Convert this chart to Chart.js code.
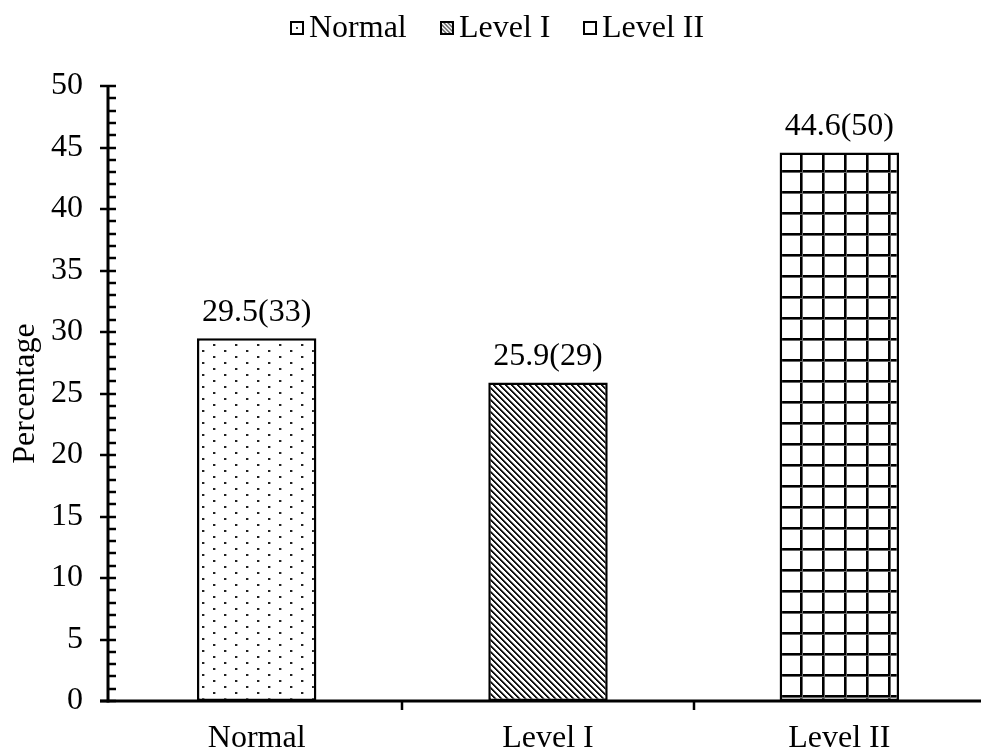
<!DOCTYPE html>
<html><head><meta charset="utf-8">
<script src="https://cdn.jsdelivr.net/npm/chart.js@4/dist/chart.umd.min.js"></script>
<style>html,body{margin:0;padding:0;background:#fff;}#wrap{width:981px;height:751px;}</style>
</head><body><div id="wrap"><canvas id="c" width="981" height="751"></canvas></div>
<script>
const categories = ['Normal', 'Level I', 'Level II'];
const percentages = [29.5, 25.9, 44.6];
const counts = [33, 29, 50];
const yMin = 0, yMax = 50, yMajorStep = 5, yMinorStep = 1;
const yTitle = 'Percentage';
const FONT = '"Liberation Serif", "Times New Roman", serif';
const FS = 32;

const canvas = document.getElementById('c');
const ctx = canvas.getContext('2d');

function makePattern(w, h, draw, ox, oy) {
  const c = document.createElement('canvas');
  c.width = w; c.height = h;
  const g = c.getContext('2d');
  g.fillStyle = '#fff'; g.fillRect(0, 0, w, h);
  draw(g, w, h);
  const p = ctx.createPattern(c, 'repeat');
  if (ox || oy) p.setTransform(new DOMMatrix().translate(ox || 0, oy || 0));
  return p;
}
const dotPattern = makePattern(22, 12, g => {
  g.fillStyle = '#222';
  g.fillRect(0, 0, 2, 2);
  g.fillRect(11, 6, 2, 2);
  g.fillStyle = '#aaa';
  g.fillRect(2, 0, 1, 2); g.fillRect(13, 6, 1, 2);
}, 4, 2);
const stripePattern = makePattern(6, 6, (g, w, h) => {
  for (let x = 0; x < w; x++) for (let y = 0; y < h; y++) {
    const d = ((x - y) % 6 + 6) % 6;
    if (d < 2) { g.fillStyle = '#111'; g.fillRect(x, y, 1, 1); }
    else if (d === 2) { g.fillStyle = '#888'; g.fillRect(x, y, 1, 1); }
  }
});
const gridPattern = makePattern(22, 21, g => {
  g.fillStyle = '#000';
  g.fillRect(0, 0, 22, 2); g.fillRect(0, 0, 2, 21);
  g.fillStyle = '#666';
  g.fillRect(0, 2, 22, 1); g.fillRect(2, 0, 1, 21);
}, 8, 2);

const fills = [dotPattern, stripePattern, gridPattern];
const swatches = ['dots', 'stripes', 'plain'];

const datasets = categories.map((cat, i) => ({
  label: cat,
  data: categories.map((_, j) => (j === i ? percentages[i] : null)),
  backgroundColor: fills[i],
  borderColor: '#000',
  borderWidth: 2.5,
  borderSkipped: false,
  grouped: false,
  barPercentage: 0.41,
  categoryPercentage: 1,
  swatch: swatches[i]
}));

const axesPlugin = {
  id: 'axesPlugin',
  afterLayout(chart) {
    const xS = chart.scales.x, ca = chart.chartArea;
    xS.left = ca.left + 3;
    xS.right = ca.right + 4;
    xS.width = xS.right - xS.left;
    xS.configure();
  },
  afterDraw(chart) {
    const c = chart.ctx, ca = chart.chartArea;
    const yS = chart.scales.y, xS = chart.scales.x;
    const ax = ca.left;
    const y0 = yS.getPixelForValue(yMin), yTop = yS.getPixelForValue(yMax);
    c.save();
    c.strokeStyle = '#000';
    c.lineCap = 'butt';
    c.lineWidth = 2.5;
    for (let v = yMin; v <= yMax + 1e-9; v += yMinorStep) {
      const y = Math.round(yS.getPixelForValue(v));
      c.beginPath();
      if (Math.abs(v % yMajorStep) < 1e-9) { c.moveTo(ax - 8, y); c.lineTo(ax + 8, y); }
      else { c.moveTo(ax, y); c.lineTo(ax + 8, y); }
      c.stroke();
    }
    c.lineWidth = 3;
    c.beginPath(); c.moveTo(ax, yTop - 1); c.lineTo(ax, y0 + 1.5); c.stroke();
    c.beginPath(); c.moveTo(ax - 8, y0); c.lineTo(ca.right, y0); c.stroke();
    c.lineWidth = 2.5;
    for (let i = 1; i < categories.length; i++) {
      const x = Math.round((xS.getPixelForValue(i - 1) + xS.getPixelForValue(i)) / 2);
      c.beginPath(); c.moveTo(x, y0); c.lineTo(x, y0 + 9); c.stroke();
    }
    c.fillStyle = '#000';
    c.font = FS + 'px ' + FONT;
    c.textAlign = 'center';
    c.textBaseline = 'middle';
    chart.data.datasets.forEach((ds, di) => {
      const meta = chart.getDatasetMeta(di);
      meta.data.forEach((el, i) => {
        if (ds.data[i] == null) return;
        const txt = percentages[i].toFixed(1) + '(' + counts[i] + ')';
        c.fillText(txt, el.x, el.y - 26);
      });
    });
    // legend
    const box = 14, gapText = 5, gapItem = 33;
    const items = chart.data.datasets.map(ds => ({ text: ds.label, sw: ds.swatch, w: c.measureText(ds.label).width }));
    const total = items.reduce((s, it) => s + box + gapText + it.w, 0) + gapItem * (items.length - 1);
    let x = 497 - total / 2;
    const ly = 28;
    c.textAlign = 'left';
    items.forEach(it => {
      const bx = Math.round(x), by = Math.round(ly - box / 2);
      c.fillStyle = '#fff'; c.fillRect(bx, by, box, box);
      if (it.sw === 'dots') {
        c.fillStyle = '#333'; c.fillRect(bx + box / 2 - 1, by + box / 2 - 1, 2, 2);
      } else if (it.sw === 'stripes') {
        c.save();
        c.beginPath(); c.rect(bx, by, box, box); c.clip();
        c.strokeStyle = '#666'; c.lineWidth = 1.5;
        for (let k = -box; k <= box; k += 4) {
          c.beginPath(); c.moveTo(bx + k, by); c.lineTo(bx + k + box, by + box); c.stroke();
        }
        c.restore();
      }
      c.strokeStyle = '#000'; c.lineWidth = 2;
      c.strokeRect(bx + 1, by + 1, box - 2, box - 2);
      c.fillStyle = '#000';
      c.fillText(it.text, bx + box + gapText, ly + 1);
      x += box + gapText + it.w + gapItem;
    });
    c.restore();
  }
};

new Chart(canvas, {
  type: 'bar',
  data: { labels: categories, datasets },
  options: {
    responsive: false,
    animation: false,
    devicePixelRatio: 1,
    layout: { padding: { top: 86, left: 0, right: 0, bottom: 0 } },
    plugins: { legend: { display: false }, tooltip: { enabled: false } },
    scales: {
      x: {
        grid: { display: false, drawTicks: false },
        border: { display: false },
        ticks: { color: '#000', font: { family: FONT, size: FS }, padding: 18, maxRotation: 0 },
        afterFit(s) { s.height = 50; }
      },
      y: {
        min: yMin, max: yMax,
        grid: { display: false, drawTicks: false },
        border: { display: false },
        ticks: { stepSize: yMajorStep, color: '#000', font: { family: FONT, size: FS }, padding: 25 },
        title: { display: true, text: yTitle, color: '#000', font: { family: FONT, size: FS }, padding: { top: 6, bottom: 0 } },
        afterFit(s) { s.width = 108; }
      }
    }
  },
  plugins: [axesPlugin]
});
</script>
</body></html>
